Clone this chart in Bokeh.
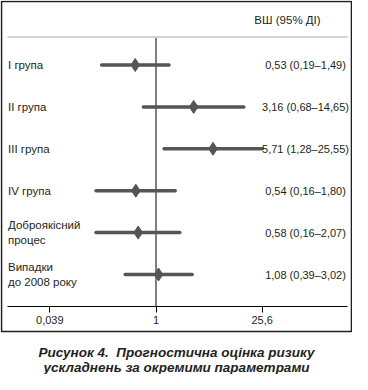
from bokeh.plotting import figure
from bokeh.models import Range1d, FixedTicker, Label, CustomJSTickFormatter
from bokeh.embed import file_html
from bokeh.resources import INLINE

# ---- data ----
groups = ["I група", "II група", "III група", "IV група",
          "Доброякісний\nпроцес", "Випадки\nдо 2008 року"]
or_vals = [0.53, 3.16, 5.71, 0.54, 0.58, 1.08]
ci_low = [0.19, 0.68, 1.28, 0.16, 0.16, 0.39]
ci_high = [1.49, 14.65, 25.55, 1.80, 2.07, 3.02]
tick_vals = [0.039, 1, 25.6]
header = "ВШ (95% ДІ)"
caption = ["Рисунок 4.\u00a0 Прогностична оцінка ризику",
           "ускладнень за окремими параметрами"]

# ---- layout (canvas pixels) ----
W, H = 352, 374
X_ONE = 155.5          # canvas px of OR = 1
PX_PER_LOG2 = 22.68
ROW0 = 64.5            # canvas px of first row
ROW_STEP = 41.9


def xval(px):
    return 2 ** ((px - X_ONE) / PX_PER_LOG2)


def yval(py):
    return (py - ROW0) / ROW_STEP


FONT = "Liberation Sans"
INK = "#231f20"
MARK = "#555555"

p = figure(width=W, height=H, x_axis_type="log",
           x_range=Range1d(xval(0), xval(W)),
           y_range=Range1d(yval(H), yval(0)),
           output_backend="svg", toolbar_location=None,
           y_axis_location=None, min_border=0,
           outline_line_color=None)
p.grid.visible = False

rows = list(range(len(groups)))

# outer box
p.quad(left=[xval(1)], right=[xval(351)], top=[yval(1)], bottom=[yval(331)],
       fill_color=None, line_color=INK, line_width=1.6)
# separator under header
p.segment(x0=[xval(7)], x1=[xval(347)], y0=[yval(36.5)], y1=[yval(36.5)],
          line_color="#c4c4c4", line_width=1.3)
# reference line at OR = 1
p.segment(x0=[1], x1=[1], y0=[yval(37.5)], y1=[yval(305.5)],
          line_color="black", line_width=1)

# CIs and point estimates
p.segment(x0=ci_low, x1=ci_high, y0=rows, y1=rows,
          line_color=MARK, line_width=3.5, line_cap="round")
p.scatter(x=or_vals, y=rows, marker="diamond", size=13,
          fill_color=MARK, line_color=MARK)

# axis
ax = p.xaxis[0]
ax.fixed_location = yval(305.5)
ax.bounds = (xval(7), xval(347))
ax.ticker = FixedTicker(ticks=tick_vals, minor_ticks=[])
ax.formatter = CustomJSTickFormatter(code="return tick.toString().replace('.', ',');")
ax.axis_line_color = "black"
ax.axis_line_width = 1
ax.major_tick_line_color = "black"
ax.major_tick_out = 6
ax.major_tick_in = 0
ax.minor_tick_out = 0
ax.minor_tick_in = 0
ax.major_label_standoff = 4
ax.major_label_text_font = FONT
ax.major_label_text_font_size = "11px"
ax.major_label_text_color = INK


def fmt(v):
    return f"{v:.2f}".replace(".", ",")


for i, g in enumerate(groups):
    p.add_layout(Label(x=7.5, y=rows[i], x_units="screen", y_units="data",
                       text=g, text_font=FONT, text_font_size="11.5px",
                       text_color=INK, text_baseline="middle",
                       text_align="left", text_line_height=1.25))
    txt = f"{fmt(or_vals[i])} ({fmt(ci_low[i])}–{fmt(ci_high[i])})"
    p.add_layout(Label(x=305, y=rows[i], x_units="screen", y_units="data",
                       text=txt, text_font=FONT, text_font_size="11px",
                       text_color=INK, text_baseline="middle",
                       text_align="center"))

p.add_layout(Label(x=287, y=yval(19.5), x_units="screen", y_units="data",
                   text=header, text_font=FONT, text_font_size="11.5px",
                   text_color=INK, text_baseline="middle", text_align="center"))

for k, line in enumerate(caption):
    p.add_layout(Label(x=176, y=yval(351.5 + 15 * k), x_units="screen", y_units="data",
                       text=line, text_font=FONT, text_font_size="13.5px",
                       text_font_style="bold italic", text_color=INK,
                       text_baseline="alphabetic", text_align="center"))

open("out.html", "w").write(file_html(p, INLINE))
